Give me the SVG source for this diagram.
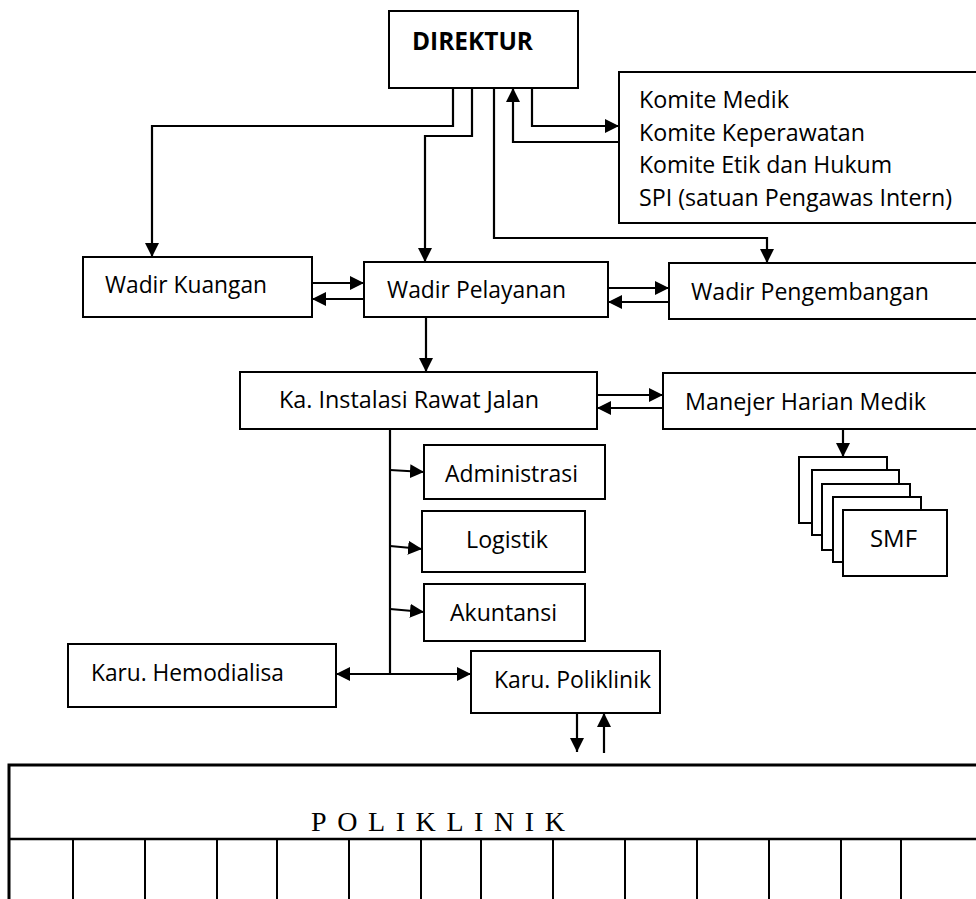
<svg xmlns="http://www.w3.org/2000/svg" width="976" height="899" viewBox="0 0 976 899">
<style>
.b{fill:#fff;stroke:#000;stroke-width:2}
.t{font-family:"Open Sans","Liberation Sans",sans-serif;font-size:24px;fill:#000}
.c{fill:none;stroke:#000;stroke-width:2.2}
.ar{marker-end:url(#a)}
.p{font-family:"Liberation Serif","Times New Roman",serif;font-size:28px;fill:#000}
</style>
<defs>
<marker id="a" viewBox="0 0 14 14" markerWidth="14" markerHeight="14" refX="14" refY="7" orient="auto" markerUnits="userSpaceOnUse">
<path d="M0,0 L14,7 L0,14 Z" fill="#000"/>
</marker>
</defs>
<rect width="976" height="899" fill="#fff"/>
<g id="direktur"><rect class="b" x="389" y="11" width="189" height="77"/><text class="t" x="412" y="50" style="font-weight:bold;font-size:25px" textLength="121" lengthAdjust="spacingAndGlyphs">DIREKTUR</text></g>
<g id="komite"><rect class="b" x="619" y="72" width="362" height="151"/>
<text class="t" x="639" y="108" textLength="150" lengthAdjust="spacingAndGlyphs">Komite Medik</text>
<text class="t" x="639" y="140.5" textLength="226" lengthAdjust="spacingAndGlyphs">Komite Keperawatan</text>
<text class="t" x="639" y="173" textLength="253" lengthAdjust="spacingAndGlyphs">Komite Etik dan Hukum</text>
<text class="t" x="639" y="205.5" textLength="313" lengthAdjust="spacingAndGlyphs">SPI (satuan Pengawas Intern)</text></g>
<g id="wadir-kuangan"><rect class="b" x="83" y="257" width="229" height="60"/><text class="t" x="105" y="293" textLength="162" lengthAdjust="spacingAndGlyphs">Wadir Kuangan</text></g>
<g id="wadir-pelayanan"><rect class="b" x="364" y="262" width="244" height="55"/><text class="t" x="387" y="298" textLength="179" lengthAdjust="spacingAndGlyphs">Wadir Pelayanan</text></g>
<g id="wadir-pengembangan"><rect class="b" x="669" y="263" width="312" height="56"/><text class="t" x="691" y="300" textLength="238" lengthAdjust="spacingAndGlyphs">Wadir Pengembangan</text></g>
<g id="ka-instalasi"><rect class="b" x="240" y="372" width="357" height="57"/><text class="t" x="279" y="408" textLength="260" lengthAdjust="spacingAndGlyphs">Ka. Instalasi Rawat Jalan</text></g>
<g id="manejer"><rect class="b" x="663" y="373" width="318" height="56"/><text class="t" x="685" y="410" textLength="241" lengthAdjust="spacingAndGlyphs">Manejer Harian Medik</text></g>
<g id="smf">
<rect class="b" x="799" y="457" width="88" height="66"/>
<rect class="b" x="812" y="470" width="87" height="65"/>
<rect class="b" x="822" y="484" width="88" height="66"/>
<rect class="b" x="833" y="497" width="88" height="65"/>
<rect class="b" x="843" y="510" width="104" height="66"/>
<text class="t" x="870" y="547" textLength="47" lengthAdjust="spacingAndGlyphs">SMF</text></g>
<g id="administrasi"><rect class="b" x="424" y="445" width="181" height="54"/><text class="t" x="445" y="482" textLength="133" lengthAdjust="spacingAndGlyphs">Administrasi</text></g>
<g id="logistik"><rect class="b" x="422" y="511" width="163" height="61"/><text class="t" x="466" y="548" textLength="82" lengthAdjust="spacingAndGlyphs">Logistik</text></g>
<g id="akuntansi"><rect class="b" x="424" y="584" width="161" height="57"/><text class="t" x="450" y="621" textLength="107" lengthAdjust="spacingAndGlyphs">Akuntansi</text></g>
<g id="karu-hemodialisa"><rect class="b" x="68" y="644" width="268" height="63"/><text class="t" x="91" y="681" textLength="193" lengthAdjust="spacingAndGlyphs">Karu. Hemodialisa</text></g>
<g id="karu-poliklinik"><rect class="b" x="471" y="651" width="189" height="62"/><text class="t" x="494" y="688" textLength="157" lengthAdjust="spacingAndGlyphs">Karu. Poliklinik</text></g>
<g id="poliklinik">
<rect x="9" y="765" width="975" height="200" fill="#fff" stroke="#000" stroke-width="3"/>
<line x1="9" y1="839" x2="976" y2="839" stroke="#000" stroke-width="2.5"/>
<path d="M73,839V899M145,839V899M217,839V899M277,839V899M349,839V899M421,839V899M481,839V899M553,839V899M625,839V899M697,839V899M769,839V899M841,839V899M901,839V899" stroke="#000" stroke-width="2"/>
<text class="p" x="311" y="831" textLength="254" lengthAdjust="spacing">POLIKLINIK</text>
</g>
<g id="connectors">
<path class="c ar" d="M453,88V126H152V257"/>
<path class="c ar" d="M472,88V136H425V262"/>
<path class="c ar" d="M494,88V238H767V263"/>
<path class="c ar" d="M619,142H513V88"/>
<path class="c ar" d="M532,88V126H619"/>
<path class="c ar" d="M312,283H364"/>
<path class="c ar" d="M364,299H312"/>
<path class="c ar" d="M608,288H669"/>
<path class="c ar" d="M669,302H608"/>
<path class="c ar" d="M426,317V372"/>
<path class="c ar" d="M597,395H663"/>
<path class="c ar" d="M663,408H597"/>
<path class="c ar" d="M843,429V457"/>
<path class="c" d="M390,429V674"/>
<path class="c ar" d="M390,470L424,472"/>
<path class="c ar" d="M390,546L422,549"/>
<path class="c ar" d="M390,609L424,612"/>
<path class="c ar" d="M390,674H336"/>
<path class="c ar" d="M390,674H471"/>
<path class="c ar" d="M577,713V752"/>
<path class="c ar" d="M604,753V713"/>
</g>
</svg>
